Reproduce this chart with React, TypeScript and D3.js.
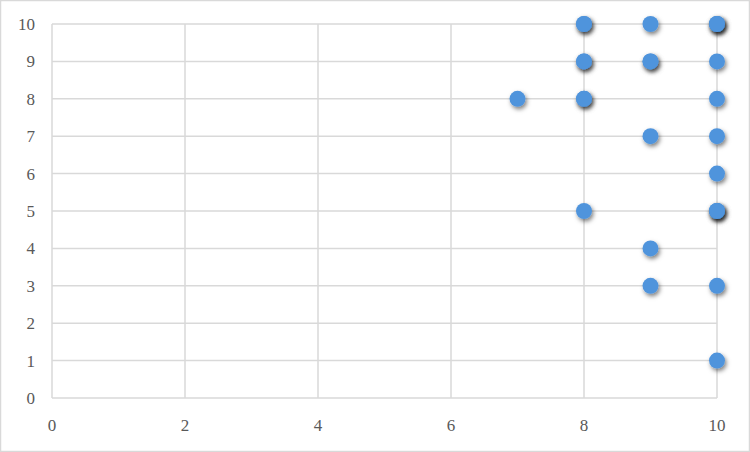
import * as d3 from "d3";

// scatter points; repeated pairs are overlapping markers (darker shadow)
const xValues = [8, 8, 9, 10, 10, 10, 8, 8, 9, 9, 10, 7, 8, 8, 10, 9, 10, 10, 8, 10, 10, 10, 9, 9, 10, 10];
const yValues = [10, 10, 10, 10, 10, 10, 9, 9, 9, 9, 9, 8, 8, 8, 8, 7, 7, 6, 5, 5, 5, 5, 4, 3, 3, 1];
const xTicks = [0, 2, 4, 6, 8, 10];
const yTicks = [0, 1, 2, 3, 4, 5, 6, 7, 8, 9, 10];

const width = 750;
const height = 452;

export default function App() {
  const x = d3.scaleLinear().domain([0, 10]).range([52, 717]);
  const y = d3.scaleLinear().domain([0, 10]).range([398, 24]);
  const labelStyle = { fontFamily: "'Liberation Serif', 'DejaVu Serif', serif", fontSize: 17, fill: "#595959" };

  return (
    <svg
      width={width}
      height={height}
      style={{ position: "fixed", left: 0, top: 0, background: "#fff" }}
    >
      <defs>
        <filter id="shadow" x="-60%" y="-60%" width="220%" height="220%">
          <feDropShadow dx="1.5" dy="2.5" stdDeviation="2" floodColor="#000" floodOpacity="0.5" />
        </filter>
      </defs>
      <rect x={0.5} y={0.5} width={width - 1} height={height - 1} fill="#fff" stroke="#d9d9d9" strokeWidth={1.5} />

      {/* grid */}
      {yTicks.map((t) => (
        <line key={"h" + t} x1={x(0)} x2={x(10)} y1={y(t)} y2={y(t)} stroke="#d9d9d9" strokeWidth={1.5} />
      ))}
      {xTicks.map((t) => (
        <line key={"v" + t} x1={x(t)} x2={x(t)} y1={y(0)} y2={y(10)} stroke="#d9d9d9" strokeWidth={1.5} />
      ))}

      {/* axis labels */}
      {yTicks.map((t) => (
        <text key={"yl" + t} x={35} y={y(t)} dy="0.35em" textAnchor="end" style={labelStyle}>
          {t}
        </text>
      ))}
      {xTicks.map((t) => (
        <text key={"xl" + t} x={x(t)} y={425} dy="0.35em" textAnchor="middle" style={labelStyle}>
          {t}
        </text>
      ))}

      {/* markers */}
      {xValues.map((v, i) => (
        <circle key={i} cx={x(v)} cy={y(yValues[i])} r={8} fill="#5094dc" filter="url(#shadow)" />
      ))}
    </svg>
  );
}
